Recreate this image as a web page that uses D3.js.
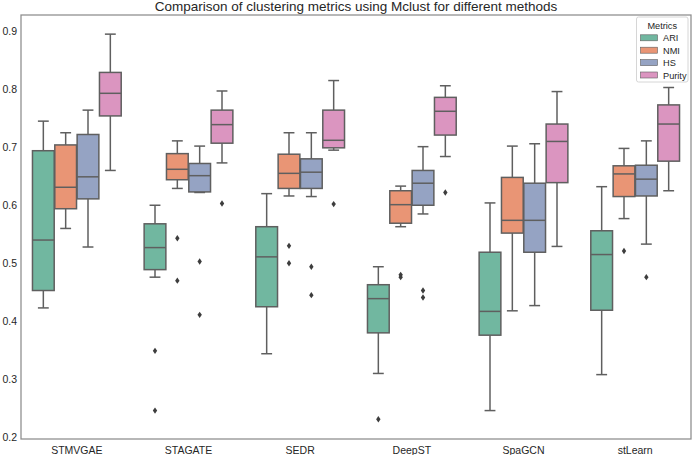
<!DOCTYPE html>
<html>
<head>
<meta charset="utf-8">
<script src="https://cdn.jsdelivr.net/npm/d3@7"></script>
<style>
  body { margin: 0; background: #fff; }
  svg { display: block; font-family: "Liberation Sans", Arial, sans-serif; }
</style>
</head>
<body>
<svg id="chart" width="693" height="455"></svg>
<script>
const title = "Comparison of clustering metrics using Mclust for different methods";
const methods = ["STMVGAE", "STAGATE", "SEDR", "DeepST", "SpaGCN", "stLearn"];
const metrics = ["ARI", "NMI", "HS", "Purity"];
const colors = ["#71b7a0", "#e99575", "#95a3c3", "#db95c0"];
const yTicks = [0.2, 0.3, 0.4, 0.5, 0.6, 0.7, 0.8, 0.9];

// [whisker low, Q1, median, Q3, whisker high] per method
const ariStats = [
  [0.423, 0.453, 0.540, 0.694, 0.745],
  [0.476, 0.489, 0.527, 0.568, 0.600],
  [0.344, 0.425, 0.511, 0.563, 0.620],
  [0.310, 0.380, 0.439, 0.463, 0.494],
  [0.246, 0.376, 0.417, 0.519, 0.604],
  [0.308, 0.419, 0.515, 0.556, 0.632]
];
const nmiStats = [
  [0.560, 0.594, 0.631, 0.704, 0.725],
  [0.629, 0.644, 0.662, 0.689, 0.711],
  [0.616, 0.629, 0.655, 0.688, 0.725],
  [0.563, 0.569, 0.601, 0.625, 0.633],
  [0.418, 0.552, 0.574, 0.648, 0.702],
  [0.577, 0.615, 0.654, 0.668, 0.698]
];
const hsStats = [
  [0.528, 0.611, 0.649, 0.722, 0.764],
  [0.622, 0.623, 0.651, 0.672, 0.702],
  [0.615, 0.629, 0.657, 0.680, 0.725],
  [0.585, 0.600, 0.638, 0.660, 0.701],
  [0.427, 0.519, 0.574, 0.638, 0.706],
  [0.533, 0.616, 0.645, 0.669, 0.711]
];
const purityStats = [
  [0.660, 0.754, 0.793, 0.829, 0.895],
  [0.673, 0.707, 0.739, 0.764, 0.797],
  [0.695, 0.699, 0.712, 0.764, 0.815],
  [0.684, 0.721, 0.762, 0.786, 0.806],
  [0.529, 0.639, 0.710, 0.740, 0.796],
  [0.625, 0.676, 0.740, 0.773, 0.803]
];
// outliers per method
const ariOutliers = [[], [0.349, 0.246], [], [0.231], [], []];
const nmiOutliers = [[], [0.543, 0.470], [0.530, 0.500], [0.480, 0.476], [], [0.521]];
const hsOutliers = [[], [0.503, 0.411], [0.494, 0.445], [0.453, 0.441], [], [0.476]];
const purityOutliers = [[], [0.603], [0.602], [0.622], [], []];

const allStats = [ariStats, nmiStats, hsStats, purityStats];
const allOutliers = [ariOutliers, nmiOutliers, hsOutliers, purityOutliers];

const svg = d3.select("#chart");
const m = { left: 21, right: 691, top: 15, bottom: 439 };
const lineColor = "#5f5f5f";

const x = d3.scaleBand().domain(methods).range([m.left, m.right]).padding(0);
const xs = d3.scaleBand().domain(metrics).range([x.bandwidth() * 0.1, x.bandwidth() * 0.9]).padding(0);
const y = d3.scaleLinear().domain([0.197, 0.928]).range([m.bottom, m.top]);

// title
svg.append("text").attr("x", (m.left + m.right) / 2).attr("y", 11)
  .attr("text-anchor", "middle").attr("font-size", 13.5).attr("fill", "#262626")
  .text(title);

// axes
const yAxis = d3.axisLeft(y).tickValues(yTicks).tickSize(0).tickPadding(4).tickFormat(d3.format(".1f"));
const gy = svg.append("g").attr("transform", `translate(${m.left},0)`).call(yAxis);
gy.select(".domain").remove();
gy.selectAll("text").attr("font-size", 10.5).attr("fill", "#262626").attr("font-family", "Liberation Sans, Arial, sans-serif");

const xAxis = d3.axisBottom(x).tickSize(0).tickPadding(8);
const gx = svg.append("g").attr("transform", `translate(0,${m.bottom})`).call(xAxis);
gx.select(".domain").remove();
gx.selectAll("text").attr("font-size", 10.5).attr("fill", "#262626").attr("font-family", "Liberation Sans, Arial, sans-serif");

// boxes
const bw = xs.bandwidth() - 0.6;
metrics.forEach((metric, mi) => {
  const g = svg.append("g");
  methods.forEach((method, i) => {
    const s = allStats[mi][i];
    const cx = x(method) + xs(metric) + xs.bandwidth() / 2;
    const [wlo, q1, med, q3, whi] = s;
    // whiskers
    g.append("line").attr("x1", cx).attr("x2", cx).attr("y1", y(q3)).attr("y2", y(whi))
      .attr("stroke", lineColor).attr("stroke-width", 1.5);
    g.append("line").attr("x1", cx).attr("x2", cx).attr("y1", y(q1)).attr("y2", y(wlo))
      .attr("stroke", lineColor).attr("stroke-width", 1.5);
    g.append("line").attr("x1", cx - bw / 4).attr("x2", cx + bw / 4).attr("y1", y(whi)).attr("y2", y(whi))
      .attr("stroke", lineColor).attr("stroke-width", 1.5);
    g.append("line").attr("x1", cx - bw / 4).attr("x2", cx + bw / 4).attr("y1", y(wlo)).attr("y2", y(wlo))
      .attr("stroke", lineColor).attr("stroke-width", 1.5);
    // box
    g.append("rect").attr("x", cx - bw / 2).attr("width", bw)
      .attr("y", y(q3)).attr("height", y(q1) - y(q3))
      .attr("fill", colors[mi]).attr("stroke", lineColor).attr("stroke-width", 1.5);
    // median
    g.append("line").attr("x1", cx - bw / 2).attr("x2", cx + bw / 2).attr("y1", y(med)).attr("y2", y(med))
      .attr("stroke", lineColor).attr("stroke-width", 1.5);
    // outliers (diamonds)
    allOutliers[mi][i].forEach(v => {
      const py = y(v);
      g.append("path")
        .attr("d", `M${cx},${py - 3.2} L${cx + 2.2},${py} L${cx},${py + 3.2} L${cx - 2.2},${py} Z`)
        .attr("fill", "#3d3d3d");
    });
  });
});

// frame
svg.append("rect").attr("x", m.left).attr("y", m.top)
  .attr("width", m.right - m.left).attr("height", m.bottom - m.top)
  .attr("fill", "none").attr("stroke", "#8c8c8c").attr("stroke-width", 1.25);

// legend
const lg = svg.append("g");
const lx = 636.5, ly = 17;
lg.append("rect").attr("x", lx).attr("y", ly).attr("width", 51.5).attr("height", 65)
  .attr("rx", 2).attr("fill", "#fff").attr("fill-opacity", 0.85)
  .attr("stroke", "#d6d6d6").attr("stroke-width", 1);
lg.append("text").attr("x", lx + 25.75).attr("y", ly + 12).attr("text-anchor", "middle")
  .attr("font-size", 9.2).attr("fill", "#262626").text("Metrics");
metrics.forEach((metric, i) => {
  const ry = ly + 21 + i * 12.4;
  lg.append("rect").attr("x", lx + 4).attr("y", ry - 3.2).attr("width", 17).attr("height", 6)
    .attr("fill", colors[i]).attr("stroke", lineColor).attr("stroke-width", 0.6);
  lg.append("text").attr("x", lx + 26.5).attr("y", ry + 3.3)
    .attr("font-size", 9.2).attr("fill", "#262626").text(metric);
});
</script>
</body>
</html>
